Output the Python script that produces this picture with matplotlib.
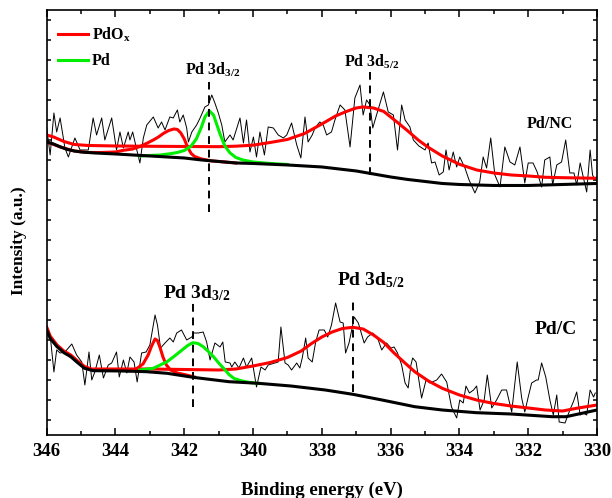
import numpy as np
import matplotlib.pyplot as plt
from matplotlib.ticker import MultipleLocator

plt.rcParams['font.family'] = 'Liberation Serif'
plt.rcParams['font.weight'] = 'bold'
plt.rcParams['axes.labelweight'] = 'bold'
plt.rcParams['mathtext.fontset'] = 'custom'
plt.rcParams['mathtext.rm'] = 'Liberation Serif:bold'
plt.rcParams['mathtext.it'] = 'Liberation Serif:bold'
plt.rcParams['mathtext.bf'] = 'Liberation Serif:bold'

# ---- Pd/NC (upper spectrum) ----
nc_raw_e = [346.00, 345.90, 345.79, 345.71, 345.61, 345.47, 345.37, 345.18, 345.03, 344.79,
            344.65, 344.55, 344.40, 344.31, 344.11, 343.97, 343.87, 343.77, 343.63, 343.58,
            343.50, 343.38, 343.29, 343.19, 343.09, 342.90, 342.76, 342.66, 342.56, 342.42,
            342.32, 342.20, 342.13, 342.03, 341.93, 341.88, 341.78, 341.64, 341.54, 341.40,
            341.30, 341.20, 341.11, 341.01, 340.91, 340.82, 340.67, 340.58, 340.38, 340.28,
            340.19, 340.09, 339.99, 339.90, 339.80, 339.67, 339.56, 339.41, 339.27, 339.12,
            339.02, 338.88, 338.73, 338.61, 338.49, 338.40, 338.28, 338.20, 338.06, 337.96,
            337.86, 337.72, 337.62, 337.47, 337.33, 337.18, 337.04, 336.89, 336.80, 336.70,
            336.60, 336.52, 336.41, 336.21, 336.07, 335.92, 335.80, 335.68, 335.58, 335.44,
            335.34, 335.18, 335.00, 334.91, 334.81, 334.71, 334.59, 334.47, 334.39, 334.30,
            334.18, 334.08, 333.99, 333.84, 333.72, 333.55, 333.41, 333.31, 333.21, 333.09,
            332.97, 332.82, 332.68, 332.53, 332.39, 332.24, 332.10, 332.00, 331.86, 331.74,
            331.61, 331.52, 331.37, 331.29, 331.17, 331.03, 330.91, 330.79, 330.67, 330.59,
            330.49, 330.40, 330.30, 330.20, 330.13, 330.06, 330.00]
nc_raw_i = [312, 285, 327, 308, 322, 292, 283, 302, 290, 290,
            322, 305, 322, 300, 322, 290, 308, 292, 308, 300,
            308, 290, 277, 302, 315, 323, 312, 318, 310, 323,
            322, 330, 318, 325, 312, 298, 308, 315, 322, 333,
            335, 345, 337, 327, 315, 298, 305, 300, 322, 297,
            320, 288, 303, 283, 308, 285, 313, 312, 305, 302,
            305, 317, 295, 282, 323, 298, 305, 312, 318, 315,
            305, 308, 320, 335, 330, 293, 342, 355, 325, 340,
            335, 312, 325, 348, 328, 325, 290, 335, 320, 313,
            300, 294, 290, 297, 277, 278, 265, 268, 290, 270,
            288, 273, 283, 272, 260, 247, 258, 283, 272, 302,
            265, 253, 293, 278, 275, 293, 257, 277, 277, 268,
            253, 280, 283, 255, 275, 278, 300, 267, 267, 255,
            277, 263, 248, 290, 265, 260, 263]

nc_bg_e = [346.0, 345.8, 345.6, 345.4, 345.2, 345.0, 344.6, 344.0, 343.0, 342.0,
           341.5, 341.0, 340.5, 340.0, 339.0, 338.0, 337.5, 337.0, 336.5, 336.0,
           335.5, 335.0, 334.5, 334.0, 333.0, 332.0, 331.0, 330.0]
nc_bg_i = [298, 296, 293, 290.5, 289, 288, 287, 286, 284, 282,
           280, 278.5, 277, 276.5, 275, 273, 271, 269, 266, 263,
           260.5, 258.5, 256.5, 255.5, 254.5, 254.5, 255.5, 256.5]

nc_ox_e = [346.0, 345.8, 345.5, 345.2, 344.8, 344.0, 343.0, 342.0, 341.0, 340.5,
           340.0, 339.5, 339.0, 338.5, 338.0, 337.6, 337.3, 337.0, 336.8, 336.5,
           336.2, 335.8, 335.5, 335.2, 334.9, 334.5, 334.0, 333.5, 333.0, 332.5,
           332.0, 331.5, 331.0, 330.5, 330.0]
nc_ox_i = [305, 303, 298.5, 295.5, 294.5, 294, 293.7, 293.5, 293.3, 293.8,
           294.8, 297.5, 300.5, 306.5, 316, 324, 328.3, 332, 333, 332,
           328.5, 317.5, 309, 300, 292.5, 284, 275.7, 270, 267, 265,
           264, 262.7, 262.3, 262, 261.7]

nc_ox2_e = [346.0, 345.6, 345.2, 344.8, 344.4, 344.0, 343.8, 343.5, 343.3, 343.1,
            342.9, 342.75, 342.6, 342.45, 342.3, 342.2, 342.1, 342.0, 341.9, 341.8,
            341.7, 341.5, 341.2, 341.0, 340.5]
nc_ox2_i = [298, 293, 289, 287.5, 287.5, 288, 289.5, 291, 293.3, 296.5,
            300, 303, 306.7, 309.5, 311, 310.5, 307, 301, 292.5, 286.5,
            283.5, 281, 279, 278.5, 277]

nc_pd_e = [343.3, 343.0, 342.7, 342.4, 342.2, 342.0, 341.8, 341.65, 341.5, 341.4,
           341.27, 341.15, 341.05, 340.95, 340.82, 340.67, 340.5, 340.3, 340.0, 339.5, 339.0]
nc_pd_i = [284, 284.5, 285, 286.3, 287.5, 289.5, 294, 301, 313, 323,
           329, 325, 315, 305, 294, 287, 282.5, 280, 278, 276.5, 275.5]

# ---- Pd/C (lower spectrum) ----
c_raw_e = [346.00, 345.90, 345.79, 345.71, 345.61, 345.47, 345.27, 345.13, 344.98, 344.89,
           344.77, 344.69, 344.60, 344.47, 344.35, 344.21, 344.11, 343.97, 343.89, 343.77,
           343.67, 343.58, 343.46, 343.37, 343.24, 343.11, 343.00, 342.85, 342.78, 342.69,
           342.56, 342.42, 342.32, 342.22, 342.08, 341.93, 341.78, 341.72, 341.59, 341.45,
           341.35, 341.25, 341.11, 340.96, 340.88, 340.81, 340.67, 340.62, 340.53, 340.41,
           340.28, 340.19, 340.04, 339.90, 339.77, 339.65, 339.56, 339.36, 339.27, 339.19,
           339.07, 338.98, 338.88, 338.73, 338.64, 338.57, 338.47, 338.40, 338.28, 338.18,
           338.08, 337.93, 337.83, 337.72, 337.60, 337.47, 337.38, 337.31, 337.21, 337.12,
           337.06, 336.94, 336.84, 336.77, 336.67, 336.52, 336.38, 336.26, 336.12, 335.99,
           335.90, 335.80, 335.68, 335.58, 335.49, 335.41, 335.36, 335.26, 335.10, 334.97,
           334.86, 334.66, 334.52, 334.37, 334.23, 334.08, 333.99, 333.89, 333.81, 333.71,
           333.59, 333.50, 333.40, 333.28, 333.19, 333.06, 332.92, 332.77, 332.63, 332.48,
           332.32, 332.19, 332.10, 332.00, 331.90, 331.76, 331.71, 331.61, 331.49, 331.37,
           331.27, 331.17, 331.10, 330.93, 330.79, 330.69, 330.59, 330.49, 330.40, 330.30,
           330.20, 330.10, 330.05]
c_raw_i = [113, 105, 68, 90, 87, 88, 96, 85, 78, 55,
           88, 60, 68, 85, 62, 75, 77, 88, 63, 80,
           67, 83, 78, 58, 87, 88, 95, 125, 115, 92,
           97, 102, 98, 107, 110, 100, 103, 107, 107, 108,
           98, 80, 97, 93, 98, 78, 77, 73, 78, 72,
           82, 73, 82, 53, 73, 70, 75, 77, 78, 113,
           77, 75, 70, 77, 72, 82, 102, 82, 78, 98,
           110, 110, 103, 115, 137, 118, 117, 87, 97, 112,
           123, 117, 105, 97, 103, 107, 102, 90, 97, 92,
           93, 87, 75, 57, 52, 75, 82, 78, 42, 60,
           57, 60, 66, 58, 33, 22, 40, 37, 54, 47,
           50, 54, 30, 40, 65, 32, 40, 50, 50, 28,
           78, 42, 28, 43, 57, 60, 60, 77, 63, 40,
           25, 45, 18, 17, 30, 38, 48, 25, 27, 25,
           50, 43, 47]

c_bg_e = [346.0, 345.9, 345.7, 345.5, 345.3, 345.1, 344.9, 344.65, 343.8, 343.1,
          342.5, 341.75, 340.7, 339.85, 338.9, 337.9, 337.1, 336.25, 335.3, 334.5,
          333.5, 332.5, 331.3, 330.9, 330.0]
c_bg_i = [110, 101.7, 93.3, 87.3, 83.3, 77.3, 71.7, 69.3, 69, 68.3,
          66.7, 62.7, 58.3, 56.7, 54, 50, 45.7, 40, 33.3, 30,
          27.3, 26, 23.3, 23.3, 30]

c_ox_e = [346.0, 345.9, 345.7, 345.5, 345.3, 345.1, 344.9, 344.7, 344.0, 343.0,
          342.0, 341.0, 340.5, 340.0, 339.5, 339.0, 338.6, 338.3, 338.0, 337.7,
          337.4, 337.1, 336.8, 336.5, 336.2, 335.9, 335.6, 335.3, 334.9, 334.5,
          334.0, 333.5, 333.0, 332.5, 332.0, 331.5, 331.0, 330.6, 330.0]
c_ox_i = [113, 104, 95, 89, 85, 79, 73.5, 71, 71, 71,
          70.5, 70, 71, 74, 77.5, 82.5, 89, 96.5, 103, 108,
          111.5, 112.7, 111, 105, 97.5, 87, 77.5, 68.3, 59, 51.7,
          45, 40, 36.5, 34, 32, 30, 29, 31.7, 35]

c_ox2_e = [343.6, 343.4, 343.2, 343.05, 342.95, 342.85, 342.78, 342.7, 342.62, 342.52,
           342.4, 342.2, 342.0, 341.7]
c_ox2_i = [69.5, 71, 76, 85, 94, 101, 99.5, 92, 83, 75,
           70, 67, 65.5, 63]

c_pd_e = [343.3, 342.9, 342.5, 342.3, 342.1, 341.9, 341.75, 341.6, 341.45, 341.3,
          341.15, 341.0, 340.85, 340.7, 340.55, 340.35, 340.1, 339.85]
c_pd_i = [70, 71.7, 78.3, 83.5, 89, 94.5, 97.3, 96.5, 93.3, 88.5,
          83.3, 77, 71.5, 65.5, 61.5, 59.3, 57.5, 56.7]

# peak positions (eV) and the intensity span of the dashed markers
nc_peaks = [341.27, 336.6]
nc_marks = [(228, 358), (265, 368)]
c_peaks = [341.74, 337.09]
c_marks = [(33, 138), (48, 140)]

RED = '#ff0000'
GREEN = '#00ee00'

fig = plt.figure(figsize=(6.12, 4.98), dpi=100)
ax = fig.add_axes([0.0763, 0.1265, 0.8992, 0.8535])

for raw_e, raw_i, bg_e, bg_i, ox_e, ox_i, ox2_e, ox2_i, pd_e, pd_i in [
        (nc_raw_e, nc_raw_i, nc_bg_e, nc_bg_i, nc_ox_e, nc_ox_i, nc_ox2_e, nc_ox2_i, nc_pd_e, nc_pd_i),
        (c_raw_e, c_raw_i, c_bg_e, c_bg_i, c_ox_e, c_ox_i, c_ox2_e, c_ox2_i, c_pd_e, c_pd_i)]:
    ax.plot(raw_e, raw_i, color='black', lw=0.7, zorder=1)
    ax.plot(ox2_e, ox2_i, color=RED, lw=2.2, zorder=2)
    ax.plot(ox_e, ox_i, color=RED, lw=2.2, zorder=2)
    ax.plot(pd_e, pd_i, color=GREEN, lw=2.2, zorder=3)
    ax.plot(bg_e, bg_i, color='black', lw=2.2, zorder=4)

for e, (lo, hi) in zip(nc_peaks + c_peaks, nc_marks + c_marks):
    ax.plot([e, e], [lo, hi], color='black', lw=1.4, ls=(0, (4, 3)), zorder=5)

ax.text(341.17, 365, 'Pd 3d$_{3/2}$', fontsize=11.5, ha='center', va='baseline')
ax.text(336.56, 373, 'Pd 3d$_{5/2}$', fontsize=11.5, ha='center', va='baseline')
ax.text(341.65, 142, 'Pd 3d$_{3/2}$', fontsize=14, ha='center', va='baseline')
ax.text(336.59, 155, 'Pd 3d$_{5/2}$', fontsize=14, ha='center', va='baseline')
ax.text(331.37, 316, 'Pd/NC', fontsize=11.5, ha='center', va='center')
ax.text(331.19, 110, 'Pd/C', fontsize=14, ha='center', va='center')

h1, = ax.plot([], [], color=RED, lw=2.2)
h2, = ax.plot([], [], color=GREEN, lw=2.2)
ax.legend([h1, h2], ['PdO$_{x}$', 'Pd'], loc='upper left', bbox_to_anchor=(0.0, 0.99),
          frameon=False, fontsize=11.5, handlelength=1.9, handletextpad=0.25,
          labelspacing=0.6, borderaxespad=0.3)

ax.set_xlim(346, 330)
ax.set_ylim(5, 430)
ax.xaxis.set_major_locator(MultipleLocator(2))
ax.xaxis.set_minor_locator(MultipleLocator(1))
ax.yaxis.set_major_locator(MultipleLocator(20))
ax.set_yticklabels([])
ax.tick_params(axis='both', which='both', direction='in', top=True, right=True, width=1.1)
ax.tick_params(axis='x', which='major', length=5, labelsize=13.5, pad=6)
ax.tick_params(axis='x', which='minor', length=3)
ax.tick_params(axis='y', which='major', length=3)
for s in ax.spines.values():
    s.set_linewidth(1.2)

ax.set_xlabel('Binding energy (eV)', fontsize=13.5, fontweight='bold', labelpad=15.5)
ax.set_ylabel('Intensity (a.u.)', fontsize=12.5, fontweight='bold')
ax.yaxis.set_label_coords(-0.035, 0.456)

fig.savefig('out.png', dpi=100)
